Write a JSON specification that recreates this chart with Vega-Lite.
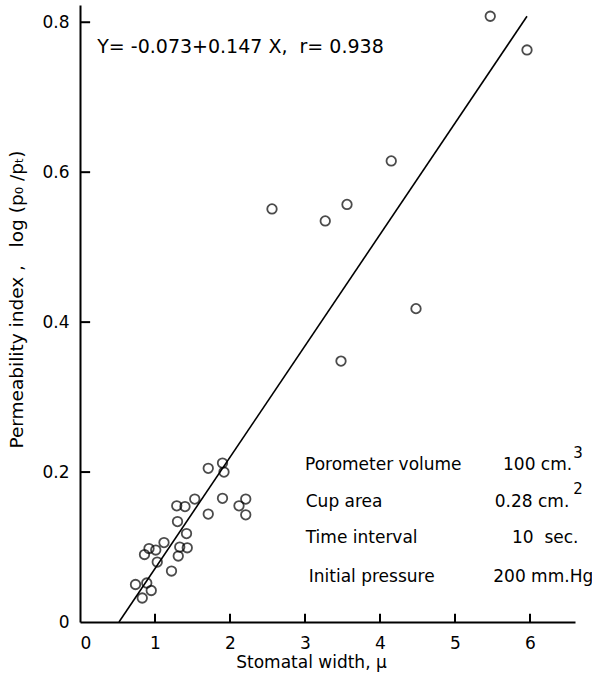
{
  "$schema": "https://vega.github.io/schema/vega-lite/v6.json",
  "width": 495,
  "height": 617,
  "autosize": {"type": "none"},
  "padding": {"left": 80, "top": 5, "right": 17, "bottom": 60},
  "background": "white",
  "config": {
    "view": {"stroke": null},
    "font": "DejaVu Sans",
    "axis": {
      "grid": false,
      "ticks": false,
      "domainColor": "black",
      "domainWidth": 2,
      "labelColor": "black",
      "titleColor": "black",
      "labelFont": "DejaVu Sans",
      "titleFont": "DejaVu Sans",
      "labelFontSize": 17,
      "titleFontSize": 17,
      "titleFontWeight": "normal"
    }
  },
  "datasets": {
    "pts": [
      {"x": 0.74, "y": 0.050}, {"x": 0.83, "y": 0.032}, {"x": 0.89, "y": 0.052}, {"x": 0.95, "y": 0.042},
      {"x": 0.86, "y": 0.090}, {"x": 0.92, "y": 0.098}, {"x": 1.01, "y": 0.096}, {"x": 1.03, "y": 0.080},
      {"x": 1.12, "y": 0.106}, {"x": 1.22, "y": 0.068}, {"x": 1.29, "y": 0.155}, {"x": 1.40, "y": 0.154},
      {"x": 1.53, "y": 0.164}, {"x": 1.30, "y": 0.134}, {"x": 1.42, "y": 0.118}, {"x": 1.33, "y": 0.100},
      {"x": 1.43, "y": 0.099}, {"x": 1.31, "y": 0.088}, {"x": 1.71, "y": 0.205}, {"x": 1.90, "y": 0.212},
      {"x": 1.92, "y": 0.200}, {"x": 1.71, "y": 0.144}, {"x": 1.90, "y": 0.165}, {"x": 2.12, "y": 0.155},
      {"x": 2.21, "y": 0.164}, {"x": 2.21, "y": 0.143},
      {"x": 2.56, "y": 0.551}, {"x": 3.27, "y": 0.535}, {"x": 3.56, "y": 0.557}, {"x": 4.15, "y": 0.615},
      {"x": 4.48, "y": 0.418}, {"x": 3.48, "y": 0.348}, {"x": 5.47, "y": 0.808}, {"x": 5.96, "y": 0.763}
    ],
    "fit": [{"x": 0.52, "y": 0.0}, {"x": 5.96, "y": 0.808}],
    "xticks": [{"v": 1}, {"v": 2}, {"v": 3}, {"v": 4}, {"v": 5}, {"v": 6}],
    "yticks": [{"v": 0.2}, {"v": 0.4}, {"v": 0.6}, {"v": 0.8}],
    "notes": [
      {"x": 0.23, "y": 0.767, "t": "Y= -0.073+0.147 X,\u00a0 r= 0.938", "k": "eq"},
      {"x": 3.0, "y": 0.209, "t": "Porometer volume", "k": "tab"},
      {"x": 3.01, "y": 0.160, "t": "Cup area", "k": "tab"},
      {"x": 3.01, "y": 0.112, "t": "Time interval", "k": "tab"},
      {"x": 3.05, "y": 0.060, "t": "Initial pressure", "k": "tab"},
      {"x": 5.64, "y": 0.209, "t": "100 cm.", "k": "tab"},
      {"x": 5.53, "y": 0.160, "t": "0.28 cm.", "k": "tab"},
      {"x": 5.76, "y": 0.112, "t": "10\u00a0 sec.", "k": "tab"},
      {"x": 5.51, "y": 0.060, "t": "200 mm.Hg", "k": "tab"},
      {"x": 6.64, "y": 0.226, "t": "3", "k": "sup"},
      {"x": 6.64, "y": 0.177, "t": "2", "k": "sup"}
    ]
  },
  "layer": [
    {
      "data": {"name": "fit"},
      "mark": {"type": "line", "color": "black", "strokeWidth": 1.6},
      "encoding": {
        "x": {"field": "x", "type": "quantitative", "scale": {"domain": [0, 6.6], "nice": false, "zero": true},
          "axis": {"values": [0, 1, 2, 3, 4, 5, 6], "format": "d", "labelPadding": 13, "title": "Stomatal width, μ", "titlePadding": 3, "titleX": 231, "titleAlign": "center"}},
        "y": {"field": "y", "type": "quantitative", "scale": {"domain": [0, 0.823], "nice": false},
          "axis": {"values": [0, 0.2, 0.4, 0.6, 0.8], "labelExpr": "datum.value == 0 ? '0' : format(datum.value, '.1f')", "labelPadding": 11, "title": "Permeability index ,\u00a0\u00a0 log (p₀ /pₜ)", "titleFontSize": 18.5, "titlePadding": 15, "titleY": 294, "titleAlign": "center"}}
      }
    },
    {
      "data": {"name": "xticks"},
      "mark": {"type": "rule", "color": "black", "strokeWidth": 2},
      "encoding": {
        "x": {"field": "v", "type": "quantitative"},
        "y": {"datum": 0, "type": "quantitative"},
        "y2": {"datum": 0.011}
      }
    },
    {
      "data": {"name": "yticks"},
      "mark": {"type": "rule", "color": "black", "strokeWidth": 2},
      "encoding": {
        "y": {"field": "v", "type": "quantitative"},
        "x": {"datum": 0, "type": "quantitative"},
        "x2": {"datum": 0.135}
      }
    },
    {
      "data": {"name": "pts"},
      "mark": {"type": "point", "shape": "circle", "filled": false, "color": "black", "strokeWidth": 1.8, "size": 90},
      "encoding": {
        "x": {"field": "x", "type": "quantitative"},
        "y": {"field": "y", "type": "quantitative"}
      }
    },
    {
      "data": {"name": "notes"},
      "transform": [{"filter": "datum.k == 'eq'"}],
      "mark": {"type": "text", "align": "left", "baseline": "middle", "fontSize": 19, "color": "black"},
      "encoding": {
        "x": {"field": "x", "type": "quantitative"},
        "y": {"field": "y", "type": "quantitative"},
        "text": {"field": "t"}
      }
    },
    {
      "data": {"name": "notes"},
      "transform": [{"filter": "datum.k == 'tab'"}],
      "mark": {"type": "text", "align": "left", "baseline": "middle", "fontSize": 17, "color": "black"},
      "encoding": {
        "x": {"field": "x", "type": "quantitative"},
        "y": {"field": "y", "type": "quantitative"},
        "text": {"field": "t"}
      }
    },
    {
      "data": {"name": "notes"},
      "transform": [{"filter": "datum.k == 'sup'"}],
      "mark": {"type": "text", "align": "center", "baseline": "middle", "fontSize": 15, "color": "black", "clip": false},
      "encoding": {
        "x": {"field": "x", "type": "quantitative"},
        "y": {"field": "y", "type": "quantitative"},
        "text": {"field": "t"}
      }
    }
  ]
}
